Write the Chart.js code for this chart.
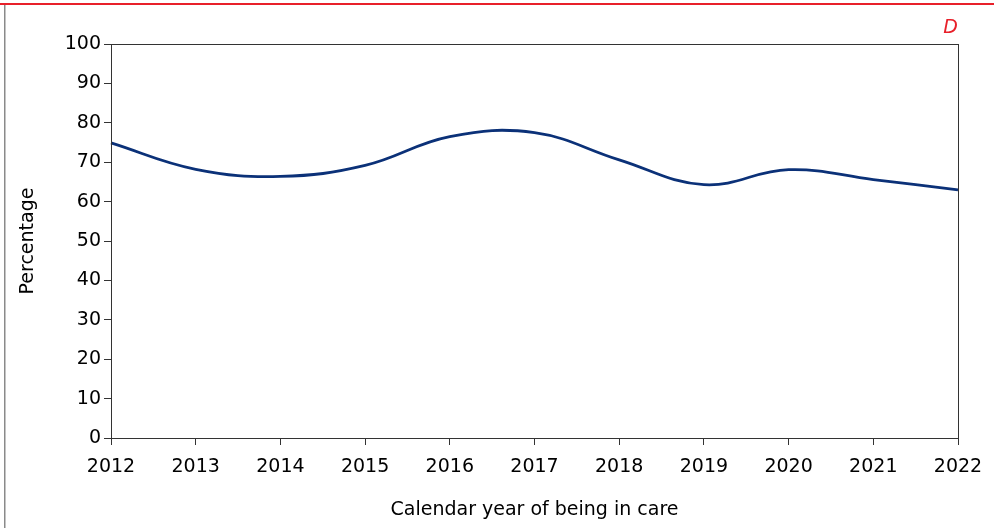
<!DOCTYPE html>
<html>
<head>
<meta charset="utf-8">
<script src="https://cdn.jsdelivr.net/npm/chart.js@4"></script>
<style>
  html, body { margin: 0; padding: 0; background: #fff; }
  #wrap { position: relative; width: 994px; height: 528px; }
</style>
</head>
<body>
<div id="wrap"><canvas id="chart" width="994" height="528"></canvas></div>
<script>
// ── Data ──
const years = ['2012', '2013', '2014', '2015', '2016', '2017', '2018', '2019', '2020', '2021', '2022'];
const percentage = [74.9, 68.2, 66.4, 69.2, 76.5, 77.5, 70.6, 64.3, 68.1, 65.6, 63.0];
const yTicks = [0, 10, 20, 30, 40, 50, 60, 70, 80, 90, 100];

const FONT = 'Verdana, "DejaVu Sans", sans-serif';

// frame round the plot, red top rule, grey left rule, panel letter
const framePlugin = {
  id: 'frame',
  beforeDraw(chart) {
    const c = chart.ctx;
    c.save();
    c.fillStyle = '#fff';
    c.fillRect(0, 0, chart.width, chart.height);
    c.fillStyle = '#e8202a';
    c.fillRect(0, 3, chart.width, 2);
    c.fillStyle = '#8a8a8a';
    c.fillRect(4, 5, 1.5, chart.height - 5);
    c.restore();
  },
  afterDraw(chart) {
    const a = chart.chartArea;
    const c = chart.ctx;
    c.save();
    c.strokeStyle = '#333';
    c.lineWidth = 1;
    c.strokeRect(Math.round(a.left) + 0.5, Math.round(a.top) + 0.5,
      Math.round(a.right - a.left), Math.round(a.bottom - a.top));
    c.fillStyle = '#e8202a';
    c.font = 'italic 19px ' + FONT;
    c.textAlign = 'right';
    c.textBaseline = 'middle';
    c.fillText('D', 958, 28);
    c.restore();
  }
};

new Chart(document.getElementById('chart').getContext('2d'), {
  type: 'line',
  data: {
    labels: years,
    datasets: [{
      data: percentage,
      borderColor: '#0b3178',
      backgroundColor: 'transparent',
      borderWidth: 2.8,
      tension: 0.4,
      pointRadius: 0
    }]
  },
  plugins: [framePlugin],
  options: {
    responsive: false,
    animation: false,
    layout: { padding: { top: 44, right: 36, left: 13, bottom: 3 } },
    plugins: { legend: { display: false }, tooltip: { enabled: false } },
    scales: {
      x: {
        offset: false,
        grid: { drawOnChartArea: false, tickLength: 7, color: '#333' },
        border: { color: '#333' },
        ticks: { font: { size: 19, family: FONT }, color: '#000', maxRotation: 0, padding: 11 },
        title: { display: true, text: 'Calendar year of being in care', font: { size: 19, family: FONT }, color: '#000', padding: { top: 14 } },
        afterFit(s) { s.height = 87; }
      },
      y: {
        min: 0,
        max: 100,
        afterBuildTicks(s) { s.ticks = yTicks.map(v => ({ value: v })); },
        grid: { drawOnChartArea: false, tickLength: 7, color: '#333' },
        border: { color: '#333' },
        ticks: { font: { size: 19, family: FONT }, color: '#000', padding: 3 },
        title: { display: true, text: 'Percentage', font: { size: 19, family: FONT }, color: '#000', padding: { bottom: 14 } },
        afterFit(s) { s.width = 98; }
      }
    }
  }
});
</script>
</body>
</html>
